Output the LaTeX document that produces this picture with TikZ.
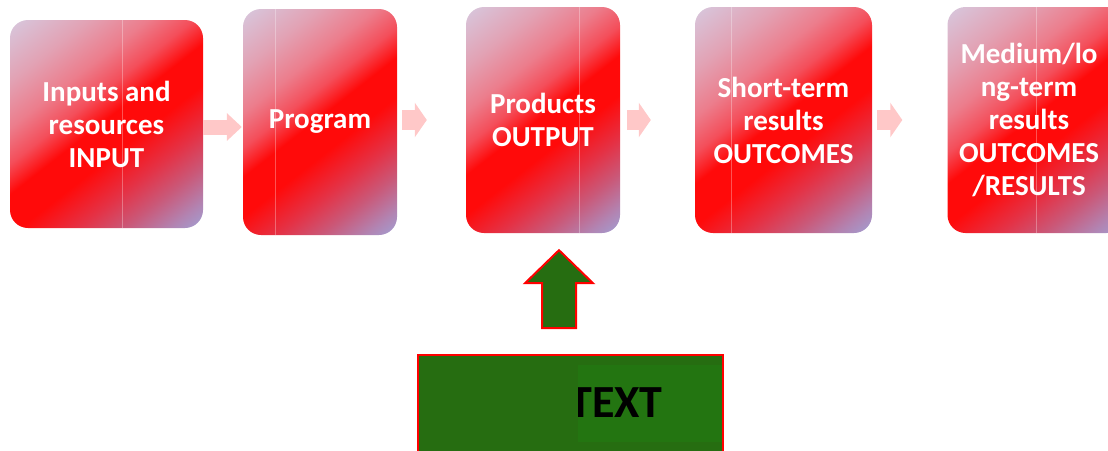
\documentclass[tikz,border=0pt]{standalone}
\usepackage{fontspec}
\setmainfont{Carlito}
\usetikzlibrary{arrows.meta,calc}
\definecolor{sA}{RGB}{215,200,222}
\definecolor{sA2}{RGB}{226,162,180}
\definecolor{sB}{RGB}{236,125,140}
\definecolor{sB2}{RGB}{244,78,90}
\definecolor{sC}{RGB}{255,10,10}
\definecolor{sC2}{RGB}{228,50,70}
\definecolor{sD}{RGB}{202,88,120}
\definecolor{sD2}{RGB}{178,132,178}
\definecolor{sE}{RGB}{158,165,218}
\definecolor{flowpink}{RGB}{255,200,200}
\definecolor{gdark}{RGB}{38,109,17}
\definecolor{glight}{RGB}{35,117,17}
\definecolor{gborder}{RGB}{255,0,0}
\pgfdeclarehorizontalshading{boxshade}{100bp}{color(0bp)=(sA); color(15bp)=(sA); color(27bp)=(sA2); color(36bp)=(sB); color(43bp)=(sB2); color(49bp)=(sC); color(57bp)=(sC); color(66bp)=(sC2); color(73bp)=(sD); color(80bp)=(sD2); color(86bp)=(sE); color(100bp)=(sE)}
\begin{document}
\begin{tikzpicture}[x=1pt,y=-1pt,
  stage/.style={rounded corners=18pt, shade, shading=boxshade, shading angle=-52,
    text=white, font=\fontsize{29}{33}\selectfont\bfseries, align=center, inner sep=0pt},
  stagetext/.style={text=white, font=\fontsize{29}{33}\selectfont\bfseries, align=center, inner sep=0pt},
  glint/.style={draw=white, draw opacity=0.3, line width=0.8pt},
  flowA/.style={draw=flowpink, line width=15pt, -{Triangle[length=15pt,width=27pt]}},
  flowB/.style={draw=flowpink, line width=20pt, -{Triangle[length=12pt,width=34pt]}},
  bigup/.style={draw=gborder, line width=2pt, fill=gdark, line join=miter},
  gbox/.style={draw=gborder, line width=2.5pt, fill=gdark, inner sep=0pt},
  gtext/.style={font=\fontsize{46}{50}\selectfont\bfseries, text=black, inner sep=0pt}
]
\useasboundingbox (0,0) rectangle (1108,450);
\clip (0,0) rectangle (1108,450);

% stage boxes
\node[stage, minimum width=193pt, minimum height=208pt] (b1) at (106.5,124) {Inputs and\\resources\\INPUT};
\node[stage, minimum width=154pt, minimum height=226pt] (b2) at (320,122) {Program};
\node[stage, minimum width=154pt, minimum height=226pt] (b3) at (543,120) {Products\\OUTPUT};
\node[stage, minimum width=177pt, minimum height=226pt] (b4) at (783.5,120) {Short-term\\results\\OUTCOMES};
\node[stage, minimum width=177pt, minimum height=226pt] (b5) at (1036,120) {};
\node[stagetext] (t5) at ($(b5.center)+(-7,0)$) {Medium/lo\\ng-term\\results\\OUTCOMES\\/RESULTS};

% faint vertical glints
\draw[glint] ($(b1.north)+(15.5,0)$) -- ($(b1.south)+(15.5,0)$);
\draw[glint] ($(b2.north)+(-45,0)$) -- ($(b2.south)+(-45,0)$);
\draw[glint] ($(b3.north)+(36,0)$) -- ($(b3.south)+(36,0)$);
\draw[glint] ($(b4.north)+(-52.5,0)$) -- ($(b4.south)+(-52.5,0)$);
\draw[glint] (b5.north) -- (b5.south);

% flow arrows
\draw[flowA] ($(b1.east)+(0,3)$) -- ($(b2.west)+(-1,5)$);
\draw[flowB] ($(b2.east)+(5,-2)$) -- ($(b3.west)+(-39,0)$);
\draw[flowB] ($(b3.east)+(7,0)$) -- ($(b4.west)+(-44,0)$);
\draw[flowB] ($(b4.east)+(5,0)$) -- ($(b5.west)+(-45,0)$);

% green text box
\node[gbox, minimum width=305pt, minimum height=125pt] (tb) at (570.5,417.5) {};
\fill[glight] (578,365) rectangle (722,442);
\begin{scope}
  \clip (578,365) rectangle (722,442);
  \node[gtext, anchor=base] (tt) at (616,417) {TEXT};
\end{scope}

% big up arrow from text box to products
\coordinate (tip) at ($(b3.south)+(16,17)$);
\draw[bigup] ($(tip)+(-17,78)$) -- ($(tip)+(-17,33)$) -- ($(tip)+(-34,33)$) -- (tip)
  -- ($(tip)+(34,33)$) -- ($(tip)+(17,33)$) -- ($(tip)+(17,78)$) -- cycle;
\end{tikzpicture}
\end{document}
